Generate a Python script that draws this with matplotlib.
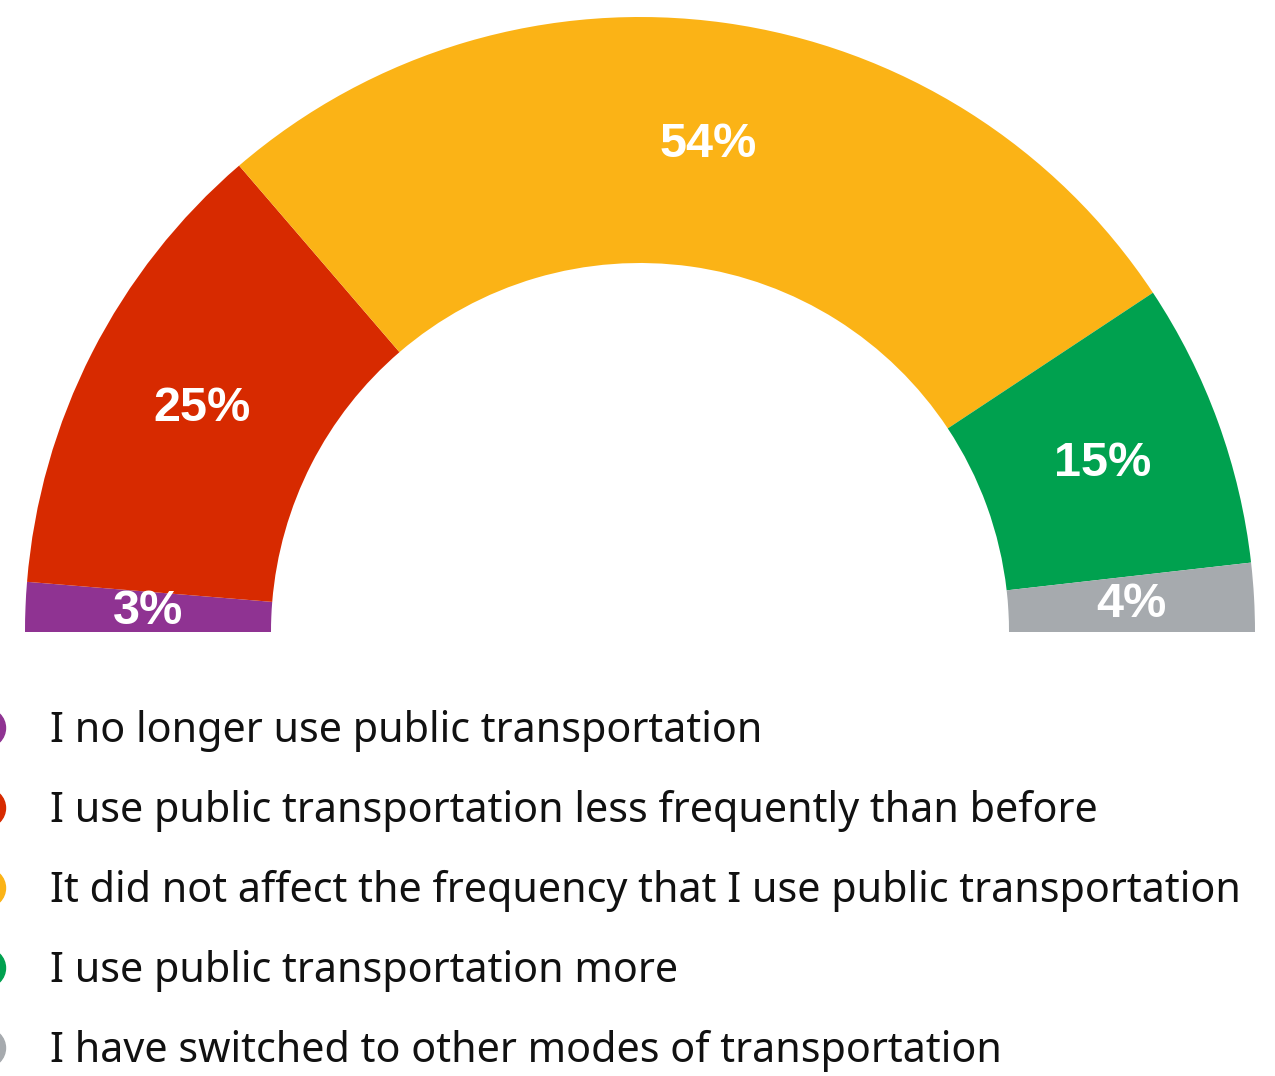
import matplotlib
matplotlib.use("Agg")
import matplotlib.pyplot as plt
from matplotlib.patches import Circle
import numpy as np

categories = [
    "I no longer use public transportation",
    "I use public transportation less frequently than before",
    "It did not affect the frequency that I use public transportation",
    "I use public transportation more",
    "I have switched to other modes of transportation",
]
# shares (labels are the rounded figures)
values = [2.6, 24.8, 54.0, 15.0, 3.6]
labels = ["3%", "25%", "54%", "15%", "4%"]
colors = ["#8F3392", "#D72A00", "#FBB316", "#00A14F", "#A6AAAE"]

W, H = 1275, 1076
fig = plt.figure(figsize=(W / 100, H / 100), dpi=100)
ax = fig.add_axes([0, 0, 1, 1])

# half donut: add an invisible half so the visible part spans 180 degrees
cx, cy, R = 640, H - 632, 615
ring = 0.4
total = sum(values)
wedges, _ = ax.pie(values + [total], colors=colors + ["none"], startangle=180,
                   counterclock=False, radius=R, center=(cx, cy),
                   wedgeprops=dict(width=R * ring, linewidth=0),
                   frame=True)
ax.set_xlim(0, W)
ax.set_ylim(0, H)
ax.set_aspect("equal")
ax.axis("off")

start = 180.0
for val, lab in zip(values, labels):
    span = val / total * 180
    mid = np.deg2rad(start - span / 2)
    r = R * (1 - ring / 2)
    ax.text(cx + r * np.cos(mid), cy + r * np.sin(mid), lab, color="white",
            fontsize=35, fontweight="bold", family="Liberation Sans",
            ha="center", va="center")
    start -= span

# legend
for i, (cat, col) in enumerate(zip(categories, colors)):
    yc = H - (728 + 80 * i)
    ax.add_patch(Circle((-14, yc), 19.5, color=col, clip_on=False))
    ax.text(50, H - (742 + 80 * i), cat, fontsize=29.7, family="Noto Sans",
            color="#111111", ha="left", va="baseline")

fig.savefig("out.png", dpi=100)
